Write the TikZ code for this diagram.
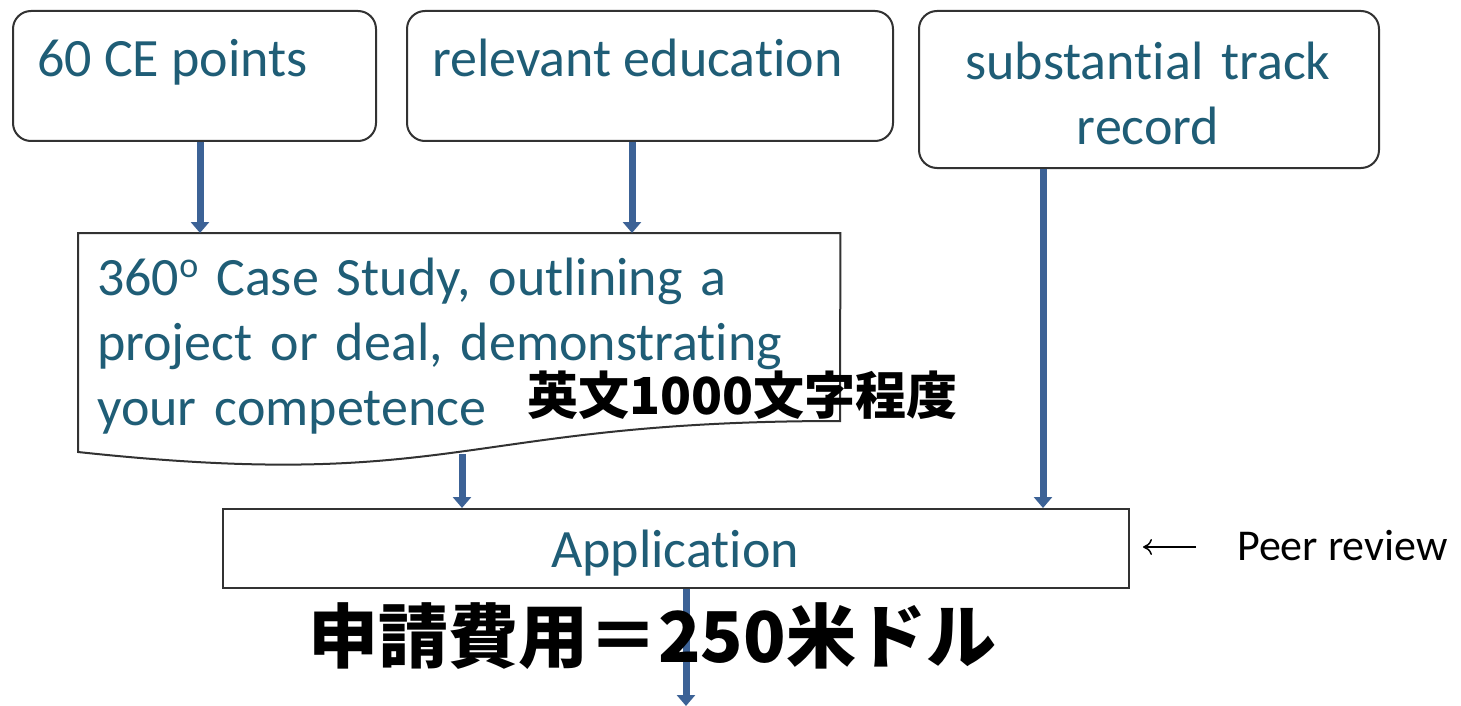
\documentclass[tikz,border=0pt]{standalone}
\usepackage{fontspec}
\setmainfont{Carlito}[Ligatures=NoCommon]
\newfontfamily\cjk{Noto Sans CJK JP}
\usetikzlibrary{arrows.meta}
\definecolor{txt}{RGB}{31,93,118}
\definecolor{arr}{RGB}{60,98,150}
\definecolor{edge}{RGB}{50,50,50}
\tikzset{
  rbox/.style={draw=edge, line width=2pt, rounded corners=18pt, inner sep=0pt, anchor=north west},
  sbox/.style={draw=edge, line width=2pt, inner sep=0pt, anchor=north west},
  lbl/.style={text=txt, inner sep=0pt, font=\fontsize{54}{65}\selectfont},
  barr/.style={draw=arr, line width=7pt, -{Triangle[width=18pt,length=11pt]}},
  jp/.style={inner sep=0pt, font=\cjk\bfseries},
}
\begin{document}
\begin{tikzpicture}[x=1pt,y=-1pt]
\useasboundingbox (0,0) rectangle (1461,706);
\fill[white] (0,0) rectangle (1461,706);

% top boxes
\node[rbox, minimum width=363pt, minimum height=130pt] (b1) at (12,10) {};
\node[lbl, anchor=base west] (t1) at (37,77) {60 CE points};
\node[rbox, minimum width=486pt, minimum height=130pt] (b2) at (406,10) {};
\node[lbl, anchor=base west] (t2) at (432,77) {relevant education};
\node[rbox, minimum width=460pt, minimum height=157pt] (b3) at (918,10) {};
\node[lbl, anchor=base, text width=460pt, align=center] (t3) at (1148,80) {substantial track\\record};

% document shape
\node[inner sep=0pt, anchor=north west, minimum width=762pt, minimum height=234pt] (doc) at (78,233) {};
\draw[edge, line width=2pt, fill=white]
  (doc.north west) -- (doc.north east) -- (840,421)
  .. controls (459,421) and (459,493) .. (78,452) -- cycle;
\node[lbl, anchor=base west, text width=740pt, align=left] (tdoc) at (97,295)
  {360\raisebox{0.33em}{\fontsize{36}{40}\selectfont o} Case Study, outlining a\\project or deal, demonstrating\\your competence};

% application
\node[sbox, minimum width=906pt, minimum height=79pt] (app) at (222,508) {};
\node[lbl, anchor=base] (tapp) at (675,567) {Application};

% peer review
\node[inner sep=0pt, anchor=base west, font=\fontsize{44}{50}\selectfont] (peer) at (1237,560) {Peer review};
\coordinate (pa) at (1196,547);
\coordinate (pb) at (1143,547);
\draw[line width=1.5pt, -{To[length=9pt,width=16pt]}] (pa) -- (pb);

% arrows
\coordinate (x1) at (200,0);
\coordinate (x2) at (632,0);
\coordinate (x3) at (1043,0);
\coordinate (x4) at (462,0);
\coordinate (x5) at (686,0);
\coordinate (bot) at (686,706);
\draw[barr] (x1 |- b1.south) -- (x1 |- doc.north);
\draw[barr] (x2 |- b2.south) -- (x2 |- doc.north);
\draw[barr] (x3 |- b3.south) -- (x3 |- app.north);
\draw[barr] (462,454) -- (x4 |- app.north);
\draw[barr] (x5 |- app.south) -- (bot);

% Japanese annotations
\node[jp, anchor=base west, font=\cjk\bfseries\fontsize{51}{60}\selectfont] (jp1) at (527,414) {英文1000文字程度};
\node[jp, anchor=base west, font=\cjk\bfseries\fontsize{70}{80}\selectfont] (jp2) at (308,662) {申請費用＝250米ドル};
\end{tikzpicture}
\end{document}
